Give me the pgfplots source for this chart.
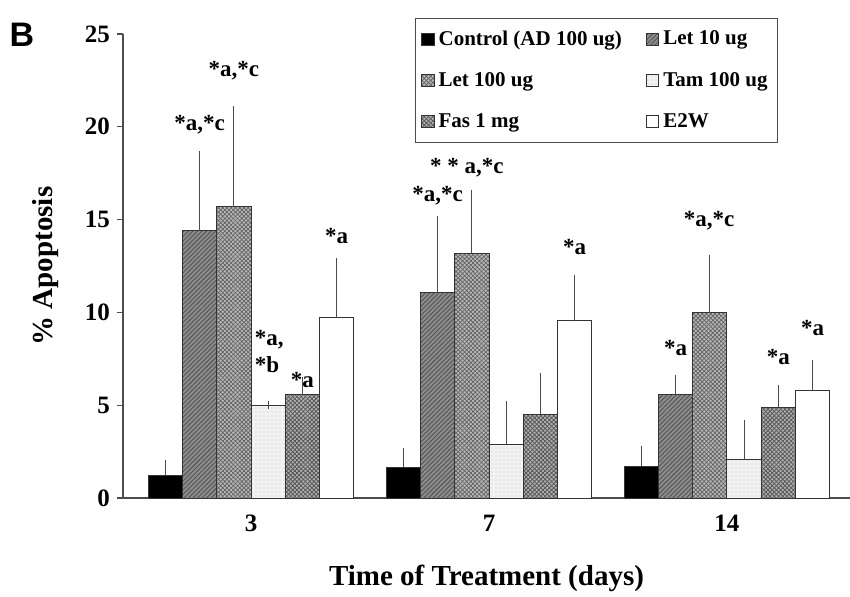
\documentclass[border=0pt]{standalone}
\usepackage{fontspec}
\setmainfont{Liberation Serif}
\newfontfamily\arial{Liberation Sans}
\usepackage{pgfplots}
\pgfplotsset{compat=1.18}
\usetikzlibrary{patterns.meta}

\pgfplotsset{
  eb/.style={error bars/.cd, y dir=plus, y explicit,
    error bar style={gray!60!black, line width=0.6pt},
    error mark options={gray!60!black, mark size=2pt, line width=0.6pt}},
  sq/.style={legend image code/.code={\draw[##1] (0pt,-3pt) rectangle (6.2pt,3.2pt);}},
}

\begin{document}
\begin{tikzpicture}
\begin{axis}[
  scale only axis, width=363.5pt, height=232pt,
  xmin=-0.538, xmax=2.517, ymin=0, ymax=25,
  axis x line=bottom, axis y line=left,
  axis line style={-, draw=gray!60!black, line width=0.6pt},
  ybar=0pt, bar width=17.15pt,
  xtick={0,1,2}, xticklabels={3,7,14},
  ytick={0,5,...,25},
  tick align=outside, major tick length=3pt,
  x tick style={draw=none},
  y tick style={gray!60!black, line width=0.6pt},
  /pgf/number format/assume math mode=true,
  tick label style={font=\fontsize{12.5}{14}\selectfont\bfseries},
  xticklabel style={yshift=-2pt},
  xlabel={Time of Treatment (days)}, ylabel={\% Apoptosis},
  label style={font=\fontsize{14.5}{16}\selectfont\bfseries},
  xlabel style={at={(axis description cs:0.5,0)}, anchor=center, yshift=-40pt},
  ylabel style={at={(axis description cs:-0.107,0.5)}, anchor=center},
  legend columns=2,
  legend cell align=left,
  legend style={at={(0.901,1.034)}, anchor=north east, draw=gray!60!black,
    font=\fontsize{10.5}{12}\selectfont\bfseries, row sep=8pt,
    inner xsep=3pt, inner ysep=4pt,
    /tikz/every even column/.append style={column sep=10pt}},
  every axis plot/.append style={draw=black!80, line width=0.5pt, sq},
  clip=false,
]
\addplot[fill=black, eb] coordinates {(0,1.2) +- (0,0.65) (1,1.67) +- (0,0.8) (2,1.72) +- (0,0.88)};
\addlegendentry{Control (AD 100 ug)}
\addplot[fill=black!45, postaction={pattern={Lines[angle=45,distance=1.6pt,line width=0.45pt]}, pattern color=black!68}, eb]
  coordinates {(0,14.4) +- (0,4.1) (1,11.05) +- (0,3.95) (2,5.55) +- (0,0.85)};
\addlegendentry{Let 10 ug}
\addplot[fill=black!28, postaction={pattern={Hatch[angle=45,distance=1.5pt,line width=0.35pt]}, pattern color=black!62}, eb]
  coordinates {(0,15.7) +- (0,5.2) (1,13.2) +- (0,3.2) (2,9.97) +- (0,2.93)};
\addlegendentry{Let 100 ug}
\addplot[fill=black!5, postaction={pattern={Dots[distance=2pt,radius=0.35pt]}, pattern color=black!25}, eb]
  coordinates {(0,5.0) +- (0,0) (1,2.9) +- (0,2.1) (2,2.05) +- (0,1.95)};
\addlegendentry{Tam 100 ug}
\addplot[fill=black!30, postaction={pattern={Hatch[angle=45,distance=1.5pt,line width=0.4pt]}, pattern color=black!66}, eb]
  coordinates {(0,5.55) +- (0,0.75) (1,4.5) +- (0,2.0) (2,4.9) +- (0,1.0)};
\addlegendentry{Fas 1 mg}
\addplot[fill=white, eb] coordinates {(0,9.7) +- (0,3.0) (1,9.55) +- (0,2.25) (2,5.77) +- (0,1.43)};
\addlegendentry{E2W}

\begin{scope}[every node/.style={font=\fontsize{11.5}{13.5}\selectfont\bfseries, inner sep=0pt}]
\node at (axis cs:-0.216,20.1) {*a,*c};
\node at (axis cs:-0.072,23.0) {*a,*c};
\node[anchor=west, align=left] at (axis cs:0.015,7.87) {*a,\\*b};
\node at (axis cs:0.216,6.36) {*a};
\node at (axis cs:0.36,14.12) {*a};
\node at (axis cs:0.784,16.3) {*a,*c};
\node at (axis cs:0.907,17.8) {* * a,*c};
\node at (axis cs:1.36,13.53) {*a};
\node at (axis cs:1.784,8.09) {*a};
\node at (axis cs:1.925,14.93) {*a,*c};
\node at (axis cs:2.216,7.60) {*a};
\node at (axis cs:2.36,9.16) {*a};
\end{scope}
\end{axis}
\node[font=\arial\bfseries\fontsize{17}{20}\selectfont] at (-50.5pt,231.5pt) {B};
\pgfresetboundingbox
\path[use as bounding box] (-61.5pt,-49pt) rectangle (363.5pt,249pt);
\end{tikzpicture}
\end{document}
